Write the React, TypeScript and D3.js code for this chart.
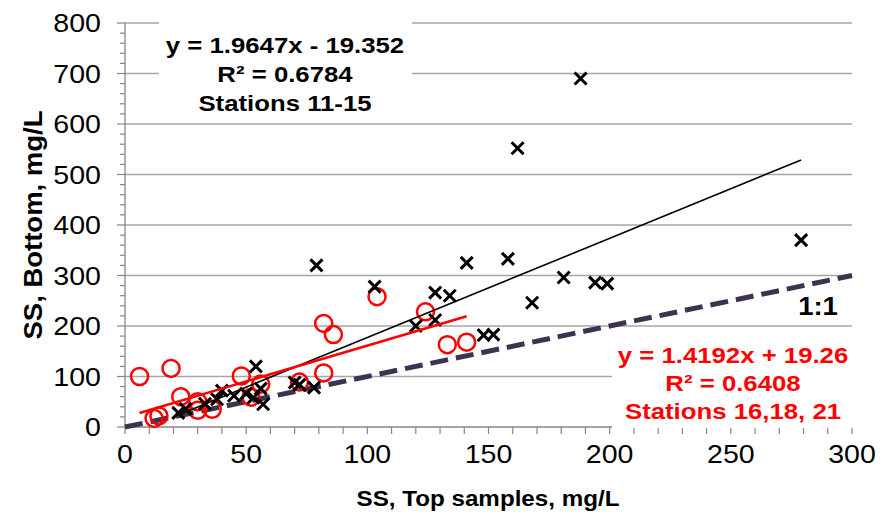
import React from 'react'
import * as d3 from 'd3'

// Stations 11-15 (black crosses)
const blackX = [188, 162, 279, 79, 141, 158, 103, 128, 134, 168, 181, 194, 199, 148, 152, 120, 128,
  22, 25, 33, 38, 40, 45, 50, 53, 56, 54, 57, 70, 72, 78]
const blackY = [690, 552, 370, 320, 325, 333, 278, 266, 260, 246, 296, 286, 284, 182, 183, 200, 212,
  28, 36, 46, 55, 72, 62, 66, 58, 76, 120, 45, 88, 84, 78]

// Stations 16,18,21 (red circles)
const redX = [6, 19, 12, 14, 23, 30, 30, 36, 48, 52, 56, 72, 82, 82, 86, 104, 124, 133, 141]
const redY = [100, 116, 17, 22, 60, 50, 33, 35, 101, 59, 85, 89, 107, 205, 183, 258, 228, 163, 168]

const blackFit = { slope: 1.9647, intercept: -19.352 }
const redFit = { slope: 1.4192, intercept: 19.26 }

const xTicks = [0, 50, 100, 150, 200, 250, 300]
const yTicks = [0, 100, 200, 300, 400, 500, 600, 700, 800]

const blackLabel = ['y = 1.9647x - 19.352', 'R\u00b2 = 0.6784', 'Stations 11-15']
const redLabel = ['y = 1.4192x + 19.26', 'R\u00b2 = 0.6408', 'Stations 16,18, 21']

const W = 896
const H = 517

// text in the picture is a bit stretched sideways, hence sx
function Txt({ x, y, size, bold, sx = 1.12, fill = '#000', anchor = 'middle', rotate = 0, children }: any) {
  return (
    <text
      transform={`translate(${x},${y}) rotate(${rotate}) scale(${sx},1)`}
      fontFamily="'Liberation Sans', Arial, sans-serif"
      fontSize={size}
      fontWeight={bold ? 'bold' : 'normal'}
      fill={fill}
      textAnchor={anchor}
    >
      {children}
    </text>
  )
}

export default function App() {
  const x = d3.scaleLinear().domain([0, 300]).range([125, 852])
  const y = d3.scaleLinear().domain([0, 800]).range([427, 23])

  const line = d3
    .line<[number, number]>()
    .x((d) => x(d[0]))
    .y((d) => y(d[1]))

  const fitPts = (xs: number[], f: { slope: number; intercept: number }): [number, number][] => {
    const [lo, hi] = d3.extent(xs) as [number, number]
    return [lo, hi].map((v) => [v, f.slope * v + f.intercept])
  }

  const grid = '#a6a6a6'
  const axis = '#868686'

  return (
    <svg width={W} height={H} style={{ position: 'absolute', left: 0, top: 0, background: '#fff' }}>
      {/* gridlines */}
      {yTicks.slice(1).map((t) => (
        <line key={t} x1={x(0)} x2={x(300)} y1={y(t)} y2={y(t)} stroke={grid} strokeWidth={1.3} />
      ))}

      {/* axes */}
      <line x1={x(0)} x2={x(0)} y1={y(0)} y2={y(800)} stroke={axis} strokeWidth={1.3} />
      <line x1={x(0)} x2={x(300)} y1={y(0)} y2={y(0)} stroke={axis} strokeWidth={1.3} />
      {d3.range(0, 801, 20).map((t) => (
        <line key={t} x1={x(0) - (t % 100 === 0 ? 8 : 5)} x2={x(0)} y1={y(t)} y2={y(t)} stroke={axis} strokeWidth={1.2} />
      ))}
      {d3.range(0, 301, 10).map((t) => (
        <line key={t} x1={x(t)} x2={x(t)} y1={y(0)} y2={y(0) + 7} stroke={axis} strokeWidth={1.2} />
      ))}

      {/* 1:1 line */}
      <path d={line([[0, 0], [300, 300]]) || ''} stroke="#3f3151" strokeWidth={5} strokeDasharray="18 8" fill="none" />

      {/* red circles */}
      {redX.map((v, i) => (
        <circle key={i} cx={x(v)} cy={y(redY[i])} r={8.5} fill="none" stroke="#ff0000" strokeWidth={2.5} />
      ))}

      {/* black crosses */}
      {blackX.map((v, i) => {
        const cx = x(v)
        const cy = y(blackY[i])
        const s = 6
        return (
          <path key={i} d={`M${cx - s},${cy - s}L${cx + s},${cy + s}M${cx - s},${cy + s}L${cx + s},${cy - s}`} stroke="#000" strokeWidth={3} />
        )
      })}

      {/* trendlines */}
      <path d={line(fitPts(blackX, blackFit)) || ''} stroke="#000" strokeWidth={1.6} fill="none" />
      <path d={line(fitPts(redX, redFit)) || ''} stroke="#ff0000" strokeWidth={2.5} fill="none" />

      {/* equation boxes */}
      <rect x={159} y={14} width={253} height={104} fill="#fff" />
      {blackLabel.map((s, i) => (
        <Txt key={i} x={285} y={53 + i * 29} size={23} bold>
          {s}
        </Txt>
      ))}
      <rect x={612} y={331} width={270} height={97} fill="#fff" />
      {redLabel.map((s, i) => (
        <Txt key={i} x={733} y={363 + i * 28} size={23} bold fill="#ff0000">
          {s}
        </Txt>
      ))}

      <Txt x={818} y={315} size={25} bold sx={1.1}>
        1:1
      </Txt>

      {/* tick labels */}
      {yTicks.map((t) => (
        <Txt key={t} x={101} y={y(t) + 9} size={25.5} anchor="end">
          {t}
        </Txt>
      ))}
      {xTicks.map((t) => (
        <Txt key={t} x={x(t)} y={463} size={25.5}>
          {t}
        </Txt>
      ))}

      {/* axis titles */}
      <Txt x={488} y={506} size={22} bold sx={1.1}>
        SS, Top samples, mg/L
      </Txt>
      <Txt x={42} y={225} size={25} bold sx={1.1} rotate={-90}>
        SS, Bottom, mg/L
      </Txt>
    </svg>
  )
}
